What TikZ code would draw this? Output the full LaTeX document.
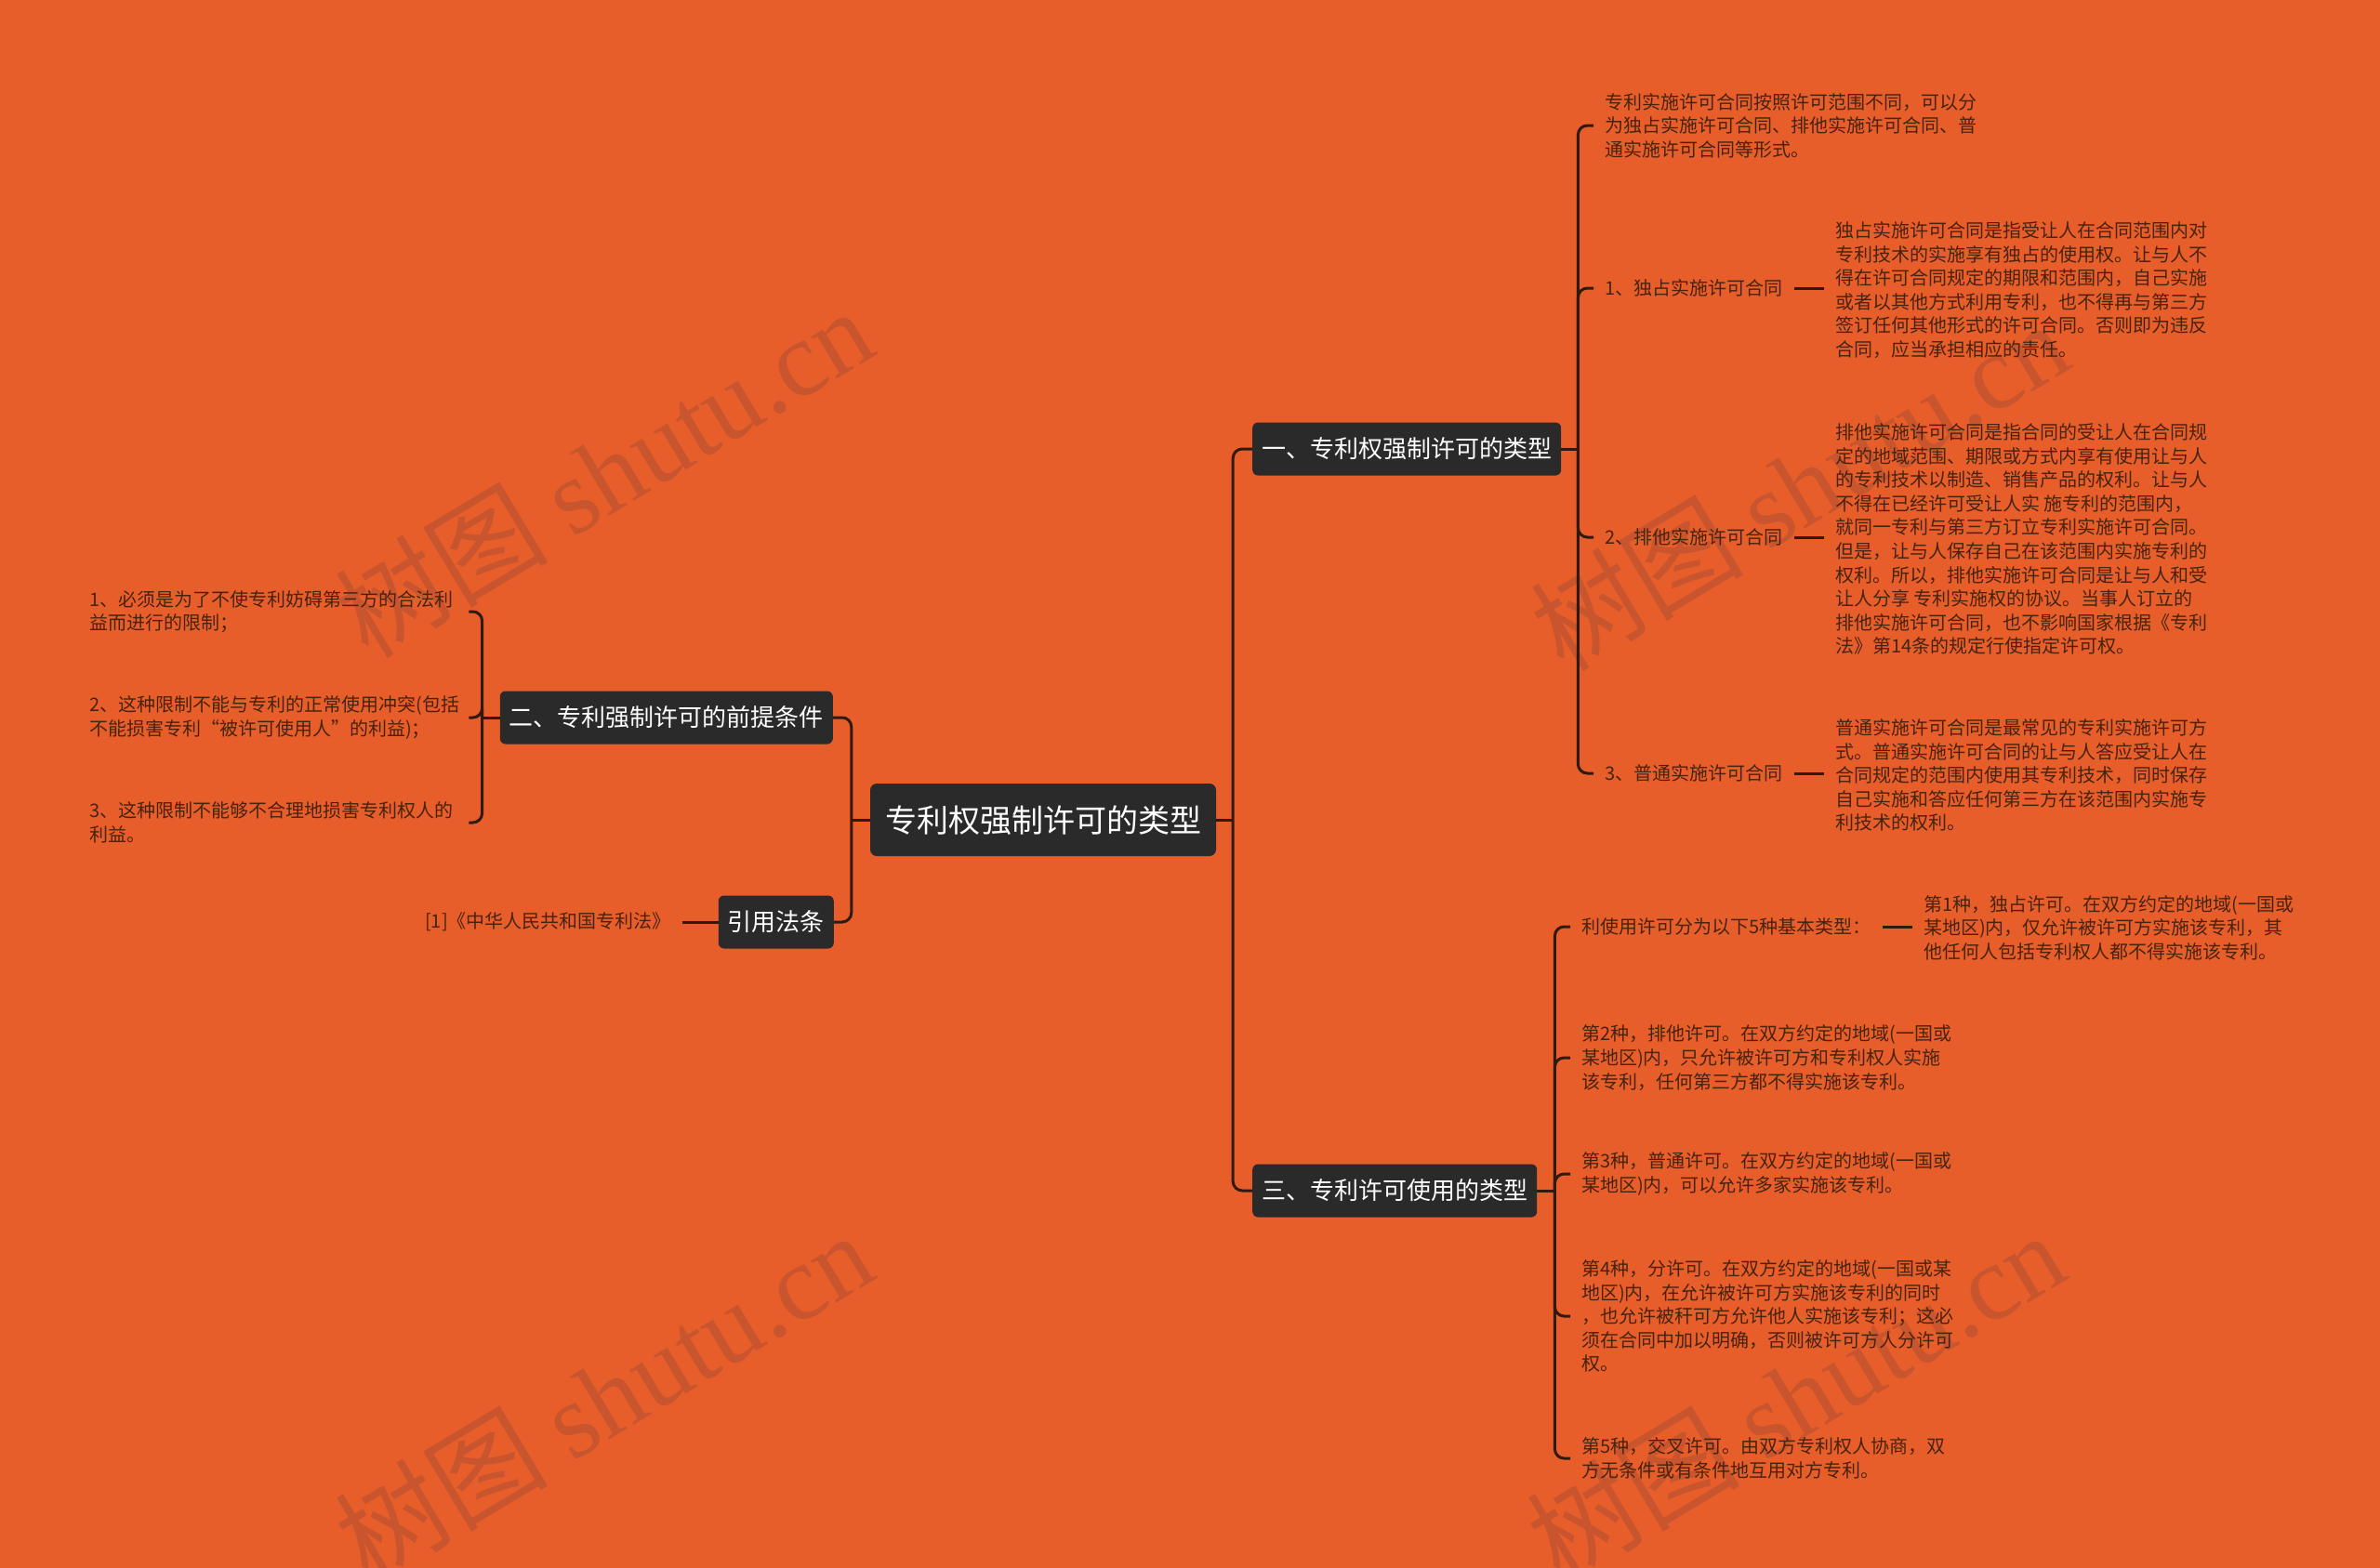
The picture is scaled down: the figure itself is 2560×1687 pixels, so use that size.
\documentclass[tikz,border=0pt]{standalone}
\usepackage{fontspec}
\setmainfont{Noto Sans CJK SC}
\newfontfamily\wmserif{Liberation Serif}
\definecolor{bg}{HTML}{E85E2A}
\definecolor{lc}{HTML}{2E1A10}
\definecolor{nodefill}{HTML}{2A2A2A}
\definecolor{leafc}{HTML}{46230F}
\definecolor{wmc}{HTML}{C9552F}
\begin{document}
\begin{tikzpicture}[x=1pt,y=-1pt,
  conn/.style={draw=lc, line width=3pt, rounded corners=10pt},
  rootbox/.style={fill=nodefill, text=white, rounded corners=7pt, font=\fontsize{34}{40}\selectfont, inner xsep=16pt, inner ysep=0pt, minimum height=78pt, text height=26pt, text depth=0pt},
  mainbox/.style={fill=nodefill, text=white, rounded corners=6pt, font=\fontsize{26}{30}\selectfont, inner xsep=10pt, inner ysep=0pt, minimum height=57pt, text height=19.8pt, text depth=0pt},
  leaf/.style={text=leafc, font=\fontsize{20}{25.6}\selectfont, align=left, inner xsep=12pt, inner ysep=2pt},
  wm/.style={text=wmc, font=\fontsize{115}{120}\selectfont, inner sep=0pt}
]
\useasboundingbox (0,0) rectangle (2560,1687);
\fill[bg] (0,0) rectangle (2560,1687);

% watermarks
\node[wm, rotate=31] (wm1) at (649,508) {树图 {\wmserif shutu.cn}};
\node[wm, rotate=31] (wm2) at (1935,522) {树图 {\wmserif shutu.cn}};
\node[wm, rotate=31] (wm3) at (649,1502) {树图 {\wmserif shutu.cn}};
\node[wm, rotate=31] (wm4) at (1931,1502) {树图 {\wmserif shutu.cn}};

% main nodes
\node[rootbox] (root) at (1122,882) {专利权强制许可的类型};
\node[mainbox, anchor=west] (n1) at (1347,483) {一、专利权强制许可的类型};
\node[mainbox, anchor=west] (n3) at (1347,1281) {三、专利许可使用的类型};
\node[mainbox, anchor=east] (n2) at (896,772) {二、专利强制许可的前提条件};
\node[mainbox, anchor=east] (ncite) at (897,992) {引用法条};

% group 一
\node[leaf, anchor=west] (a0) at (1714,135) {专利实施许可合同按照许可范围不同，可以分\\为独占实施许可合同、排他实施许可合同、普\\通实施许可合同等形式。};
\node[leaf, anchor=west] (a1) at (1714,310) {1、独占实施许可合同};
\node[leaf, anchor=west] (a2) at (1714,578) {2、排他实施许可合同};
\node[leaf, anchor=west] (a3) at (1714,832) {3、普通实施许可合同};
\node[leaf, anchor=west] (p1) at (1962,312) {独占实施许可合同是指受让人在合同范围内对\\专利技术的实施享有独占的使用权。让与人不\\得在许可合同规定的期限和范围内，自己实施\\或者以其他方式利用专利，也不得再与第三方\\签订任何其他形式的许可合同。否则即为违反\\合同，应当承担相应的责任。};
\node[leaf, anchor=west] (p2) at (1962,580) {排他实施许可合同是指合同的受让人在合同规\\定的地域范围、期限或方式内享有使用让与人\\的专利技术以制造、销售产品的权利。让与人\\不得在已经许可受让人实 施专利的范围内，\\就同一专利与第三方订立专利实施许可合同。\\但是，让与人保存自己在该范围内实施专利的\\权利。所以，排他实施许可合同是让与人和受\\让人分享 专利实施权的协议。当事人订立的\\排他实施许可合同，也不影响国家根据《专利\\法》第14条的规定行使指定许可权。};
\node[leaf, anchor=west] (p3) at (1962,834) {普通实施许可合同是最常见的专利实施许可方\\式。普通实施许可合同的让与人答应受让人在\\合同规定的范围内使用其专利技术，同时保存\\自己实施和答应任何第三方在该范围内实施专\\利技术的权利。};

% group 三
\node[leaf, anchor=west] (b1) at (1689,997) {利使用许可分为以下5种基本类型：};
\node[leaf, anchor=west] (q1) at (2057,998) {第1种，独占许可。在双方约定的地域(一国或\\某地区)内，仅允许被许可方实施该专利，其\\他任何人包括专利权人都不得实施该专利。};
\node[leaf, anchor=west] (b2) at (1689,1138) {第2种，排他许可。在双方约定的地域(一国或\\某地区)内，只允许被许可方和专利权人实施\\该专利，任何第三方都不得实施该专利。};
\node[leaf, anchor=west] (b3) at (1689,1263) {第3种，普通许可。在双方约定的地域(一国或\\某地区)内，可以允许多家实施该专利。};
\node[leaf, anchor=west] (b4) at (1689,1416) {第4种，分许可。在双方约定的地域(一国或某\\地区)内，在允许被许可方实施该专利的同时\\，也允许被秆可方允许他人实施该专利；这必\\须在合同中加以明确，否则被许可方人分许可\\权。};
\node[leaf, anchor=west] (b5) at (1689,1569) {第5种，交叉许可。由双方专利权人协商，双\\方无条件或有条件地互用对方专利。};

% group 二
\node[leaf, anchor=west, text width=396pt] (c1) at (84,658) {1、必须是为了不使专利妨碍第三方的合法利\\益而进行的限制；};
\node[leaf, anchor=west, text width=396pt] (c2) at (84,772) {2、这种限制不能与专利的正常使用冲突(包括\\不能损害专利“被许可使用人”的利益)；};
\node[leaf, anchor=west, text width=396pt] (c3) at (84,885) {3、这种限制不能够不合理地损害专利权人的\\利益。};

% cite
\node[leaf, anchor=east] (cite) at (734,992) {[1]《中华人民共和国专利法》};

% connectors from root
\coordinate (rR) at ([xshift=18pt]root.east);
\coordinate (rL) at ([xshift=-20pt]root.west);
\draw[conn] (root.east) -- (rR);
\draw[conn] (rR) |- (n1.west);
\draw[conn] (rR) |- (n3.west);
\draw[conn] (root.west) -- (rL);
\draw[conn] (rL) |- (n2.east);
\draw[conn] (rL) |- (ncite.east);

% group 一 connectors
\coordinate (aJ) at ([xshift=18pt]n1.east);
\draw[conn] (n1.east) -- (aJ);
\draw[conn] (aJ) |- (a0.west);
\draw[conn] (aJ) |- (a1.west);
\draw[conn] (aJ) |- (a2.west);
\draw[conn] (aJ) |- (a3.west);
\draw[conn] (a1.east) -- (a1.east -| p1.west);
\draw[conn] (a2.east) -- (a2.east -| p2.west);
\draw[conn] (a3.east) -- (a3.east -| p3.west);

% group 三 connectors
\coordinate (bJ) at ([xshift=19pt]n3.east);
\draw[conn] (n3.east) -- (bJ);
\draw[conn] (bJ) |- (b1.west);
\draw[conn] (bJ) |- (b2.west);
\draw[conn] (bJ) |- (b3.west);
\draw[conn] (bJ) |- (b4.west);
\draw[conn] (bJ) |- (b5.west);
\draw[conn] (b1.east) -- (b1.east -| q1.west);

% group 二 connectors
\coordinate (cJ) at ([xshift=-19pt]n2.west);
\draw[conn] (n2.west) -- (cJ);
\draw[conn] (cJ) |- (c1.east);
\draw[conn] (cJ) |- (c2.east);
\draw[conn] (cJ) |- (c3.east);

% cite connector
\draw[conn] (ncite.west) -- (cite.east);
\end{tikzpicture}
\end{document}
